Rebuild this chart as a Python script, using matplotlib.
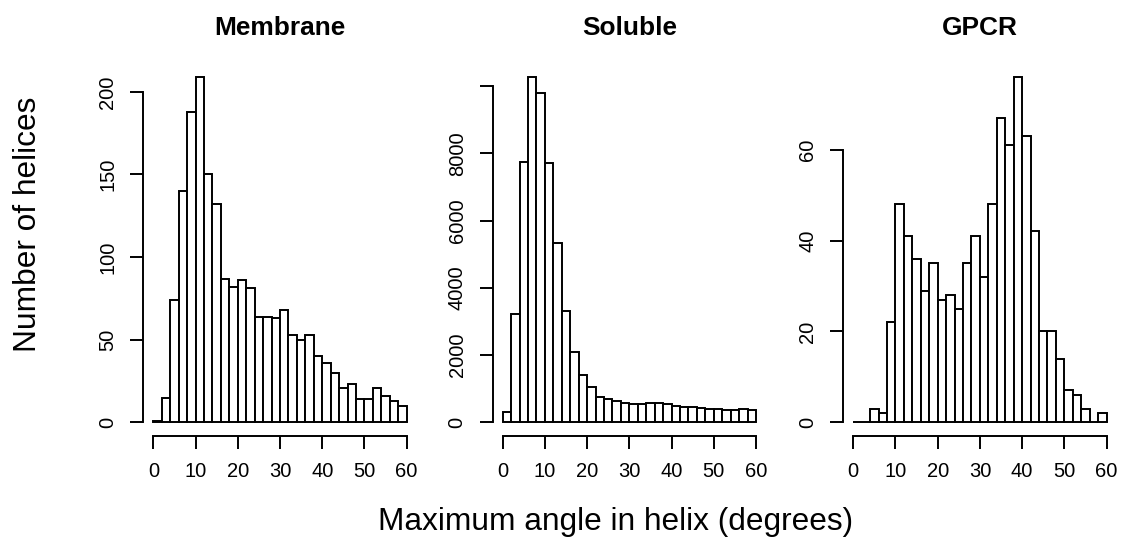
import numpy as np
import matplotlib
matplotlib.use("Agg")
import matplotlib.pyplot as plt

plt.rcParams['font.family'] = ['Liberation Sans', 'DejaVu Sans']

# histogram bins: 2 degree wide, 0..60
bin_edges = np.arange(0, 62, 2)

membrane_counts = [1, 15, 74, 140, 188, 209, 150, 132, 87, 82,
                   86, 81, 64, 64, 63, 68, 53, 50, 53, 40,
                   36, 30, 21, 23, 14, 14, 21, 16, 13, 10]
soluble_counts = [300, 3210, 7750, 10270, 9800, 7720, 5340, 3310, 2080, 1400,
                  1040, 750, 680, 620, 575, 555, 540, 565, 565, 545,
                  485, 440, 440, 425, 405, 405, 360, 360, 400, 355]
gpcr_counts = [0, 0, 3, 2, 22, 48, 41, 36, 29, 35,
               27, 28, 25, 35, 41, 32, 48, 67, 61, 76,
               63, 42, 20, 20, 14, 7, 6, 3, 0, 2]

titles = ["Membrane", "Soluble", "GPCR"]
x_ticks = [0, 10, 20, 30, 40, 50, 60]
y_ticks = [[0, 50, 100, 150, 200],
           [0, 2000, 4000, 6000, 8000, 10000],
           [0, 20, 40, 60]]
y_ticklabels = [["0", "50", "100", "150", "200"],
                ["0", "2000", "4000", "6000", "8000", ""],
                ["0", "20", "40", "60"]]

W, H = 1123, 539
fig = plt.figure(figsize=(W / 100, H / 100), dpi=100)

lw = 1.4
panel_left = [143.2, 492.5, 843.1]
panel_w = 273.6
panel_top, panel_bottom = 63.2, 436.1

for i, counts in enumerate([membrane_counts, soluble_counts, gpcr_counts]):
    counts = np.array(counts)
    ax = fig.add_axes([panel_left[i] / W, 1 - panel_bottom / H,
                       panel_w / W, (panel_bottom - panel_top) / H])
    ax.bar(bin_edges[:-1], counts, width=2, align='edge',
           facecolor='white', edgecolor='black', linewidth=lw)
    top = counts.max()
    ax.set_xlim(-2.4, 62.4)
    ax.set_ylim(-0.04 * top, 1.04 * top)

    for side in ['top', 'right']:
        ax.spines[side].set_visible(False)
    for side in ['left', 'bottom']:
        ax.spines[side].set_linewidth(lw)
    ax.spines['bottom'].set_bounds(0, 60)
    ax.spines['left'].set_bounds(0, y_ticks[i][-1])

    ax.set_xticks(x_ticks)
    ax.set_yticks(y_ticks[i])
    ax.set_yticklabels(y_ticklabels[i], rotation=90, va='center')
    ax.tick_params(direction='out', length=9.1, width=lw, labelsize=14.5, pad=9.5)

    ax.set_title(titles[i], fontsize=18.9, fontweight='bold', pad=20.3)

fig.text(28 / W, 1 - 224 / H, "Number of helices", rotation=90,
         ha='center', va='center', fontsize=22.8)
fig.text(615.7 / W, 9 / H, "Maximum angle in helix (degrees)",
         ha='center', va='baseline', fontsize=22.8)

fig.savefig("out.png", dpi=100)
